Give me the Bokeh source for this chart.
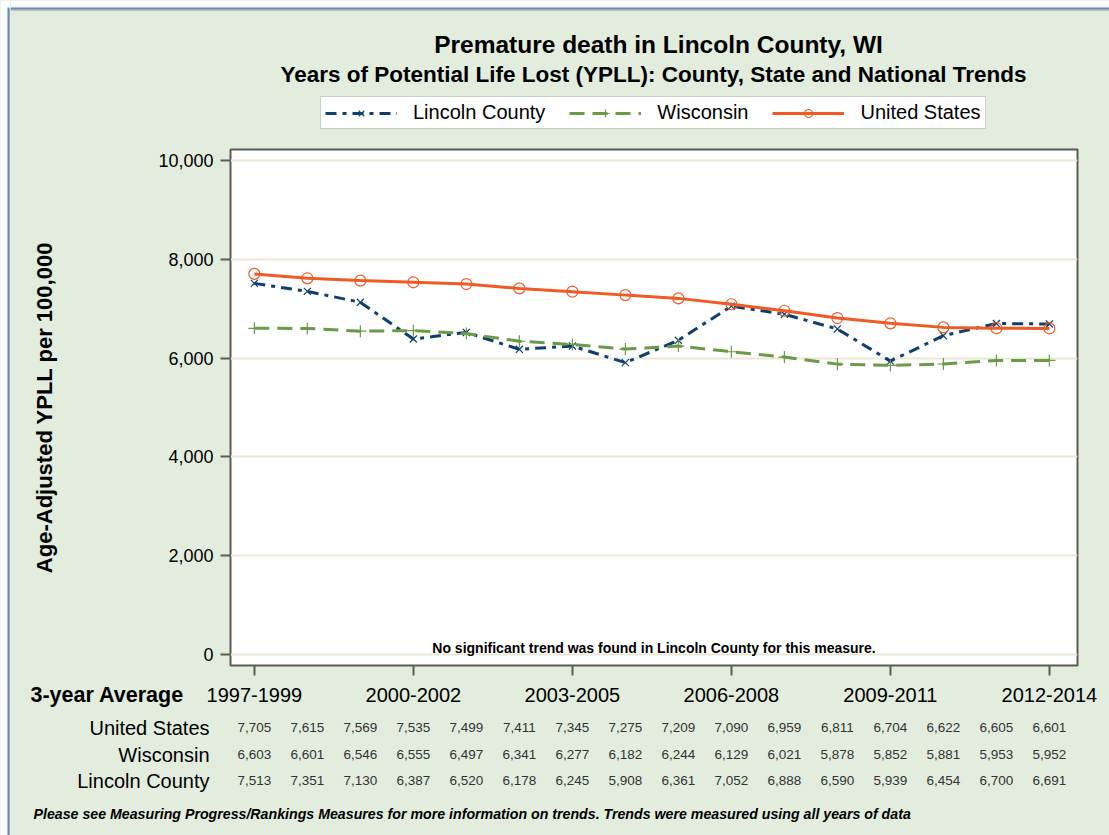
from bokeh.plotting import figure
from bokeh.layouts import row, column
from bokeh.models import (Range1d, FixedTicker, NumeralTickFormatter, Label,
                          ColumnDataSource, Legend, LegendItem, Plot)
from bokeh.core.properties import value
from bokeh.embed import file_html
from bokeh.resources import INLINE

# ---------------- data ----------------
periods = ["1997-1999", "1998-2000", "1999-2001", "2000-2002", "2001-2003",
           "2002-2004", "2003-2005", "2004-2006", "2005-2007", "2006-2008",
           "2007-2009", "2008-2010", "2009-2011", "2010-2012", "2011-2013",
           "2012-2014"]
united_states = [7705, 7615, 7569, 7535, 7499, 7411, 7345, 7275, 7209, 7090,
                 6959, 6811, 6704, 6622, 6605, 6601]
wisconsin = [6603, 6601, 6546, 6555, 6497, 6341, 6277, 6182, 6244, 6129,
             6021, 5878, 5852, 5881, 5953, 5952]
lincoln = [7513, 7351, 7130, 6387, 6520, 6178, 6245, 5908, 6361, 7052,
           6888, 6590, 5939, 6454, 6700, 6691]
labeled_periods = [0, 3, 6, 9, 12, 15]
y_ticks = [0, 2000, 4000, 6000, 8000, 10000]
row_names = ["United States", "Wisconsin", "Lincoln County"]

title_text = "Premature death in Lincoln County, WI"
subtitle_text = "Years of Potential Life Lost (YPLL): County, State and National Trends"
ylabel_text = "Age-Adjusted YPLL per 100,000"
note_text = "No significant trend was found in Lincoln County for this measure."
xhead_text = "3-year Average"
foot_text = ("Please see Measuring Progress/Rankings Measures for more information "
             "on trends. Trends were measured using all years of data")

# ---------------- style / layout ----------------
FONT = "Liberation Sans"
BG = "#e3edde"
FRAME = "#5e5a52"
BLUE = "#5b8bd0"
GREY = "#9c9c9c"
C_US = "#f05a24"
C_WI = "#6b9a48"
C_LC = "#0e3f6e"

PAGE_W, PAGE_H = 1109, 835
STRIP_W = 10                 # left border strip
TOP_H = 139                  # title + legend band
MAIN_BOTTOM = 680            # bottom of main plot canvas (page y)
FR_L, FR_R, FR_T, FR_B = 230, 1077, 149, 665   # plot frame in page px
XS, XE = -0.45, 15.53
YS, YE = -223, 10223
CW = PAGE_W - STRIP_W
HAS_FRAME_ALIGN = "frame_align" in Plot.properties()

x = list(range(len(periods)))
src = ColumnDataSource(dict(x=x, us=united_states, wi=wisconsin, lc=lincoln))


def data_x(px):
    """page x -> category-index units of the main frame's scale"""
    return XS + (px - FR_L) * (XE - XS) / (FR_R - FR_L)


def blank(width, height, xr, yr):
    f = figure(width=width, height=height, output_backend="svg",
               toolbar_location=None, x_range=xr, y_range=yr,
               x_axis_location=None, y_axis_location=None,
               min_border=0, min_border_left=0, min_border_right=0,
               min_border_top=0, min_border_bottom=0,
               background_fill_color=BG, border_fill_color=BG,
               outline_line_color=None)
    f.grid.visible = False
    if HAS_FRAME_ALIGN:
        f.frame_align = False
    return f


def txt(f, xs, ys, texts, size, style="normal", align="left", color="black"):
    f.text(x=xs, y=ys, text=texts, text_font=value(FONT),
           text_font_size=value(size), text_font_style=style,
           text_align=align, text_baseline="middle", text_color=color)


# ---------------- left border strip ----------------
strip = blank(STRIP_W, PAGE_H, Range1d(0, STRIP_W), Range1d(PAGE_H, 0))
strip.quad(left=[0, 0, 7, 8.7], right=[STRIP_W, 7, 8.7, STRIP_W],
           top=[0, 0, 7, 8.7], bottom=[7, PAGE_H, PAGE_H, PAGE_H],
           fill_color=["white", "white", BLUE, GREY], line_color=None)

# ---------------- top band: titles + legend ----------------
top = blank(CW, TOP_H, Range1d(STRIP_W, PAGE_W), Range1d(TOP_H, 0))
top.quad(left=[STRIP_W] * 3, right=[PAGE_W] * 3, top=[0, 7, 8.7],
         bottom=[7, 8.7, 10], fill_color=["white", BLUE, GREY], line_color=None)
txt(top, [658], [44], [title_text], "24.5px", "bold", "center")
txt(top, [653], [74], [subtitle_text], "22.5px", "bold", "center")

# legend proxies (same data; they fall outside this band's range)
g_lc_l = top.line("x", "lc", source=src, line_color=C_LC, line_width=3,
                  line_dash="11 6 4 6")
g_lc_m = top.scatter("x", "lc", source=src, marker="x", size=10,
                     line_color=C_LC, line_width=1.2)
g_wi_l = top.line("x", "wi", source=src, line_color=C_WI, line_width=3,
                  line_dash="15 8")
g_wi_m = top.scatter("x", "wi", source=src, marker="cross", size=12,
                     line_color=C_WI, line_width=1.2)
g_us_l = top.line("x", "us", source=src, line_color=C_US, line_width=3)
g_us_m = top.scatter("x", "us", source=src, marker="circle", size=11,
                     line_color=C_US, fill_alpha=0.0, line_width=1.2)
legend = Legend(items=[LegendItem(label="Lincoln County", renderers=[g_lc_l, g_lc_m]),
                       LegendItem(label="Wisconsin", renderers=[g_wi_l, g_wi_m]),
                       LegendItem(label="United States", renderers=[g_us_l, g_us_m])],
                location=(320 - STRIP_W, TOP_H - 129), orientation="horizontal",
                label_text_font=FONT, label_text_font_size="20px",
                label_text_color="black", glyph_width=72, glyph_height=20,
                label_standoff=16, spacing=24, padding=4, margin=0,
                border_line_color="#9a9a9a", border_line_width=1,
                background_fill_color="white", background_fill_alpha=1.0)
top.add_layout(legend)

# ---------------- main plot ----------------
p = figure(width=CW, height=MAIN_BOTTOM - TOP_H, output_backend="svg",
           toolbar_location=None,
           x_range=Range1d(XS, XE), y_range=Range1d(YS, YE),
           min_border_left=FR_L - STRIP_W, min_border_right=PAGE_W - FR_R,
           min_border_top=FR_T - TOP_H, min_border_bottom=MAIN_BOTTOM - FR_B,
           background_fill_color="white", border_fill_color=BG,
           outline_line_color=FRAME, outline_line_width=2)
if HAS_FRAME_ALIGN:
    p.frame_align = False

p.xgrid.visible = False
p.ygrid.ticker = FixedTicker(ticks=y_ticks)
p.ygrid.grid_line_color = "#ebe7d6"
p.ygrid.grid_line_width = 2

ya = p.yaxis[0]
ya.ticker = FixedTicker(ticks=y_ticks)
ya.formatter = NumeralTickFormatter(format="0,0")
ya.major_label_text_font = FONT
ya.major_label_text_font_size = "18px"
ya.major_label_text_color = "black"
ya.major_tick_out = 10
ya.major_tick_in = 0
ya.minor_tick_out = 0
ya.minor_tick_in = 0
ya.major_tick_line_color = FRAME
ya.major_tick_line_width = 2
ya.axis_line_color = None
ya.major_label_standoff = 7
ya.axis_label = ylabel_text
ya.axis_label_text_font = FONT
ya.axis_label_text_font_size = "22px"
ya.axis_label_text_font_style = "bold"
ya.axis_label_text_color = "black"
ya.axis_label_standoff = 98

xa = p.xaxis[0]
xa.ticker = FixedTicker(ticks=labeled_periods)
xa.major_label_overrides = {i: "" for i in labeled_periods}
xa.major_label_standoff = 0
xa.major_label_text_font_size = "1px"
xa.major_tick_out = 10
xa.major_tick_in = 0
xa.minor_tick_out = 0
xa.minor_tick_in = 0
xa.major_tick_line_color = FRAME
xa.major_tick_line_width = 2
xa.axis_line_color = None

lc_l = p.line("x", "lc", source=src, line_color=C_LC, line_width=3,
              line_dash="11 6 4 6")
lc_m = p.scatter("x", "lc", source=src, marker="x", size=10, line_color=C_LC,
                 line_width=1.2)
wi_l = p.line("x", "wi", source=src, line_color=C_WI, line_width=3,
              line_dash="15 8")
wi_m = p.scatter("x", "wi", source=src, marker="cross", size=12,
                 line_color=C_WI, line_width=1.2)
us_l = p.line("x", "us", source=src, line_color=C_US, line_width=3)
us_m = p.scatter("x", "us", source=src, marker="circle", size=11,
                 line_color=C_US, fill_alpha=0.0, line_width=1.2)

p.add_layout(Label(x=(FR_L + FR_R) / 2 - STRIP_W, y=647 - TOP_H,
                   x_units="canvas", y_units="canvas", text=note_text,
                   text_font=FONT, text_font_size="14px",
                   text_font_style="bold", text_align="center",
                   text_baseline="middle", text_color="black"))

# ---------------- bottom band: period labels + data table ----------------
bot = blank(CW, PAGE_H - MAIN_BOTTOM,
            Range1d(data_x(STRIP_W), data_x(PAGE_W)),
            Range1d(PAGE_H, MAIN_BOTTOM))
txt(bot, labeled_periods, [694] * len(labeled_periods),
    [periods[i] for i in labeled_periods], "20px", "normal", "center")
txt(bot, [data_x(30)], [694], [xhead_text], "21.5px", "bold", "left")

row_y = [727, 754, 780]
series = [united_states, wisconsin, lincoln]
for name, vals, ry in zip(row_names, series, row_y):
    txt(bot, [data_x(209)], [ry], [name], "20px", "normal", "right")
    txt(bot, x, [ry] * len(x), [f"{v:,}" for v in vals], "13.5px",
        "normal", "center", "#333333")
txt(bot, [data_x(33)], [813], [foot_text], "14.2px", "bold italic", "left")

layout = row(strip, column(top, p, bot, styles={"background-color": BG}),
             styles={"background-color": BG})
open("out.html", "w").write(file_html(layout, INLINE))
